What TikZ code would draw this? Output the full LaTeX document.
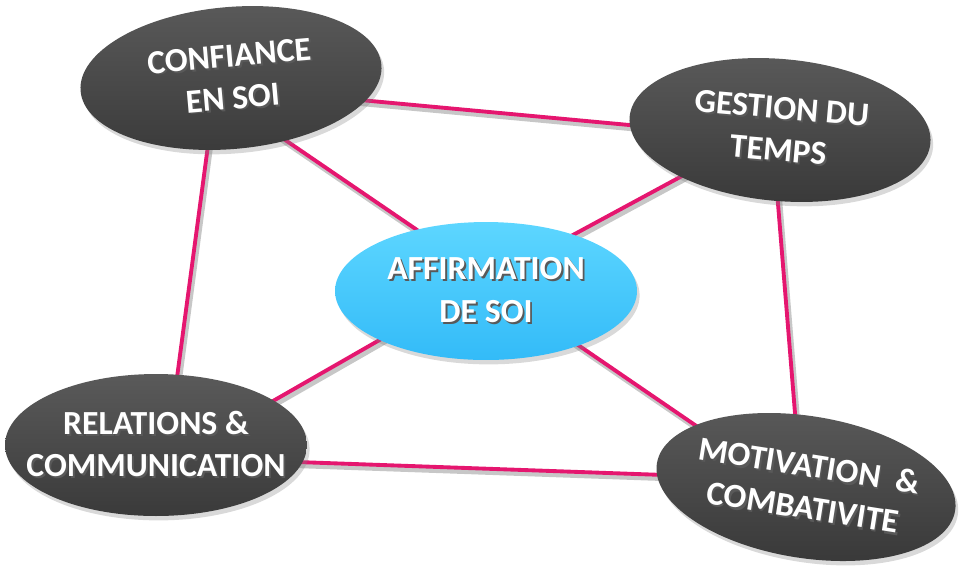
\documentclass[tikz,border=0pt]{standalone}
\usepackage{fontspec}
\setmainfont{Carlito}
\usetikzlibrary{shapes,shadows,backgrounds,calc}

\definecolor{topicTop}{HTML}{5A5A5A}
\definecolor{topicBot}{HTML}{3A3A3A}
\definecolor{coreTop}{HTML}{5DD6FF}
\definecolor{coreBot}{HTML}{33BBF8}
\definecolor{linkPink}{HTML}{E5166F}

% one line of white text with its dark shadow
\newcommand{\txtline}[1]{\makebox[0pt]{\rlap{\hspace{1.1pt}\raisebox{-1.1pt}{\color{black!65}#1}}#1}}

\begin{document}
\begin{tikzpicture}[x=0.02cm,y=-0.02cm,
  bubble/.style={ellipse, minimum width=6.04cm, minimum height=2.84cm, inner sep=0pt,
    align=center, text=white, font=\bfseries\fontsize{19.2}{24}\selectfont,
    drop shadow={opacity=0.3, shadow xshift=1.5pt, shadow yshift=-2.5pt}},
  topic/.style={bubble, top color=topicTop, bottom color=topicBot},
  core/.style={bubble, top color=coreTop, bottom color=coreBot, minimum height=2.76cm},
  link/.style={draw=linkPink, line width=2.2pt,
    preaction={draw=black!22, line width=3pt, transform canvas={shift={(1.2pt,-2pt)}}}}]
  \useasboundingbox (0,0) rectangle (962,569);

  \node[topic, rotate=5] (conf) at (231,78) {\txtline{CONFIANCE}\\\txtline{EN SOI}};
  \node[topic, rotate=-5] (gest) at (780,130) {\txtline{GESTION DU}\\\txtline{TEMPS}};
  \node[core] (aff) at (486,291) {\txtline{AFFIRMATION}\\\txtline{DE SOI}};
  \node[topic] (rel) at (156,445) {\txtline{RELATIONS \&}\\\txtline{COMMUNICATION}};
  \node[topic, rotate=-9] (mot) at (806,487) {\txtline{MOTIVATION~~\&}\\\txtline{COMBATIVITE}};

  \begin{scope}[on background layer]
    \draw[link] ($(conf)+(0,10)$) -- ($(gest)+(0,9)$);
    \draw[link] ($(conf)+(0,25)$) -- ($(aff)+(0,-14)$);
    \draw[link] ($(conf)+(-14,0)$) -- ($(rel)+(12,0)$);
    \draw[link] ($(gest)+(0,-7)$) -- ($(aff)+(0,-9)$);
    \draw[link] ($(gest)+(-8,0)$) -- ($(mot)+(-5,0)$);
    \draw[link] ($(aff)+(0,-12)$) -- ($(rel)+(0,23)$);
    \draw[link] ($(aff)+(0,-9)$) -- ($(mot)+(0,14)$);
    \draw[link] ($(rel)+(0,12)$) -- ($(mot)+(0,-7)$);
  \end{scope}
\end{tikzpicture}
\end{document}
